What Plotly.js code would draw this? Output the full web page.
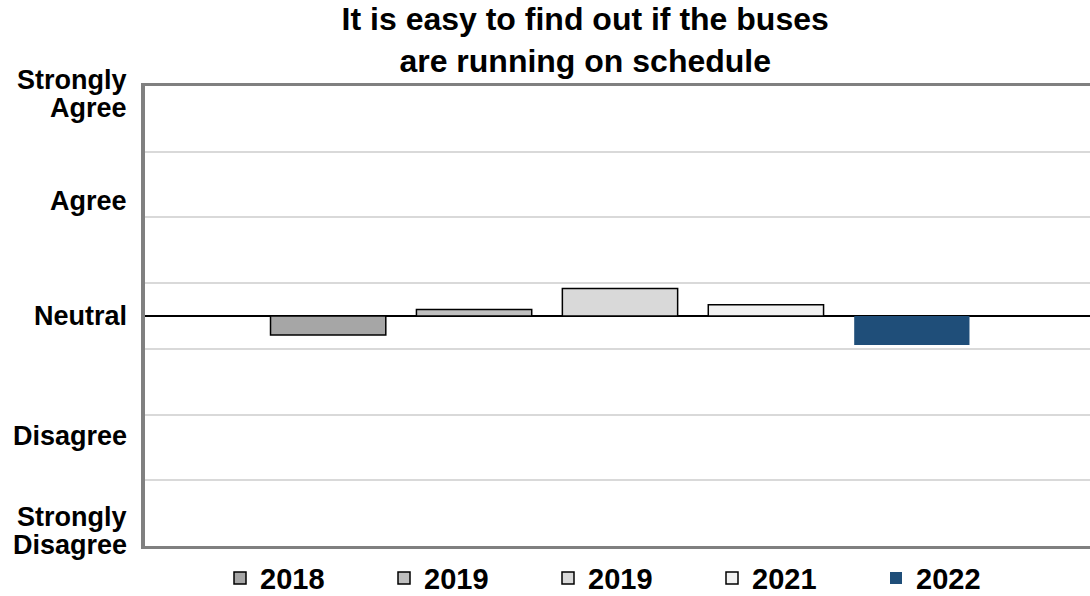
<!DOCTYPE html>
<html>
<head>
<meta charset="utf-8">
<script src="https://cdn.plot.ly/plotly-3.0.1.min.js"></script>
<style>
html, body { margin: 0; padding: 0; overflow: hidden; background: #fff; }
#chart { width: 1100px; height: 596px; }
</style>
</head>
<body>
<div id="chart"></div>
<script>
// Data (scale: 0 = Neutral, gridline spacing = 1 unit)
const seriesNames = ['2018', '2019', '2019', '2021', '2022'];
const seriesValues = [-0.29, 0.10, 0.42, 0.17, -0.44];
const seriesColors = ['#A6A6A6', '#BFBFBF', '#D9D9D9', '#F2F2F2', '#1F4E79'];
const seriesOutline = [1.5, 1.5, 1.5, 1.5, 0];
const scaleLabels = ['Strongly<br>Agree', 'Agree', 'Neutral', 'Disagree', 'Strongly<br>Disagree'];
const scaleLabelPos = [3.38, 1.75, 0, -1.83, -3.27];
const category = ['Q'];

const FONT = '"Liberation Sans", Arial, sans-serif';

const traces = seriesNames.map((name, i) => ({
  type: 'bar',
  name: name,
  x: category,
  y: [seriesValues[i]],
  marker: { color: seriesColors[i], line: { color: '#000000', width: seriesOutline[i] } },
  hoverinfo: 'skip'
}));

const annotations = [];
scaleLabels.forEach((t, i) => {
  const lines = t.split('<br>');
  const n = lines.length;
  lines.forEach((ln, k) => {
    annotations.push({
      text: ln,
      xref: 'paper', yref: 'y',
      x: 0, y: scaleLabelPos[i],
      xanchor: 'right', yanchor: 'middle',
      xshift: -16,
      yshift: -(k - (n - 1) / 2) * 28,
      align: 'right',
      showarrow: false,
      font: { family: FONT, size: 27, color: '#000', weight: 700 }
    });
  });
});

const layout = {
  width: 1100, height: 596,
  margin: { l: 145, r: 5, t: 86, b: 50 },
  paper_bgcolor: '#fff', plot_bgcolor: '#fff',
  font: { family: FONT, color: '#000' },
  title: {
    text: 'It is easy to find out if the buses<br>are running on schedule',
    font: { family: FONT, size: 32, color: '#000', weight: 700 },
    xref: 'paper', x: 0.532 * 1100 / 950 - 145 / 950, xanchor: 'center',
    yref: 'container', y: 0.949, yanchor: 'middle'
  },
  barmode: 'group',
  bargap: 0.232,
  bargroupgap: 0.21,
  showlegend: true,
  legend: {
    orientation: 'h',
    xref: 'container', yref: 'container',
    x: 0.2, xanchor: 'left',
    y: 0.03, yanchor: 'middle',
    entrywidth: 119,
    font: { family: FONT, size: 29, color: '#000', weight: 700 },
    bgcolor: 'rgba(0,0,0,0)'
  },
  xaxis: {
    showticklabels: false,
    showgrid: false,
    ticks: '',
    showline: true, linecolor: '#808080', linewidth: 3, mirror: true,
    fixedrange: true
  },
  yaxis: {
    range: [-3.5, 3.5],
    tick0: 0.5, dtick: 1,
    showticklabels: false,
    ticks: '',
    showgrid: true, gridcolor: '#D9D9D9', gridwidth: 2,
    zeroline: true, zerolinecolor: '#000000', zerolinewidth: 2,
    showline: true, linecolor: '#808080', linewidth: 4,
    fixedrange: true
  },
  annotations: annotations
};

Plotly.newPlot('chart', traces, layout, { displayModeBar: false, staticPlot: true });
</script>
</body>
</html>
